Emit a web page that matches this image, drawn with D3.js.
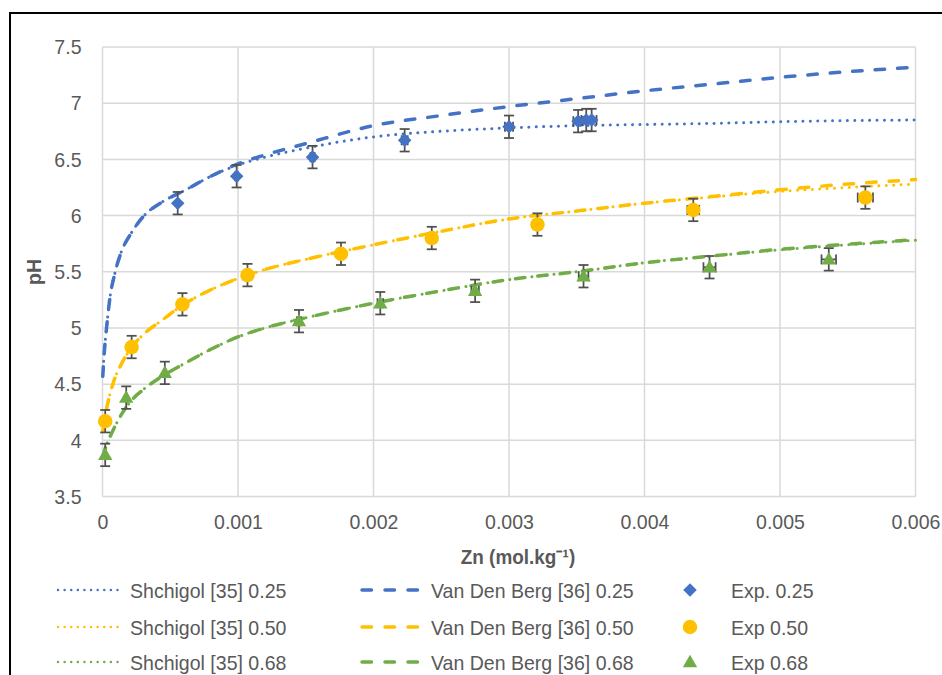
<!DOCTYPE html>
<html>
<head>
<meta charset="utf-8">
<script src="https://cdn.jsdelivr.net/npm/d3@7"></script>
<style>
  html, body { margin: 0; padding: 0; background: #fff; }
  svg { display: block; }
  text { font-family: 'Liberation Sans', Arial, sans-serif; }
</style>
</head>
<body>
<svg id="chart" width="942" height="675"></svg>
<script>
// ---- Data ----
const xTicks = [0, 0.001, 0.002, 0.003, 0.004, 0.005, 0.006];
const xTickLabels = ["0", "0.001", "0.002", "0.003", "0.004", "0.005", "0.006"];
const yTicks = [3.5, 4, 4.5, 5, 5.5, 6, 6.5, 7, 7.5];
const yTickLabels = ["3.5", "4", "4.5", "5", "5.5", "6", "6.5", "7", "7.5"];

const curveX = [0.000002, 0.000013, 0.00003, 0.000055, 0.00009, 0.00014, 0.00021, 0.0003, 0.00044, 0.0006, 0.0008, 0.001, 0.0012, 0.0015, 0.002, 0.0025, 0.003, 0.0035, 0.004, 0.0045, 0.005, 0.0055, 0.006];
const shchigol025 = [4.57, 4.78, 5.00, 5.27, 5.48, 5.68, 5.84, 5.99, 6.12, 6.22, 6.35, 6.45, 6.52, 6.60, 6.70, 6.75, 6.78, 6.80, 6.81, 6.82, 6.835, 6.845, 6.85];
const shchigol050 = [4.08, 4.16, 4.28, 4.41, 4.55, 4.68, 4.82, 4.94, 5.07, 5.21, 5.34, 5.44, 5.52, 5.61, 5.74, 5.86, 5.97, 6.04, 6.11, 6.165, 6.215, 6.25, 6.28];
const shchigol068 = [3.85, 3.90, 3.96, 4.03, 4.12, 4.23, 4.35, 4.45, 4.57, 4.68, 4.81, 4.92, 5.00, 5.09, 5.22, 5.33, 5.43, 5.50, 5.58, 5.64, 5.695, 5.74, 5.78];
const vdb025 = [4.57, 4.78, 5.00, 5.27, 5.48, 5.68, 5.84, 5.99, 6.12, 6.22, 6.35, 6.46, 6.54, 6.64, 6.80, 6.89, 6.97, 7.04, 7.11, 7.17, 7.23, 7.28, 7.32];
const vdb050 = [4.08, 4.16, 4.28, 4.41, 4.55, 4.68, 4.82, 4.94, 5.07, 5.21, 5.34, 5.44, 5.52, 5.61, 5.74, 5.86, 5.97, 6.04, 6.11, 6.17, 6.23, 6.28, 6.32];
const vdb068 = [3.85, 3.90, 3.96, 4.03, 4.12, 4.23, 4.35, 4.45, 4.57, 4.68, 4.81, 4.92, 5.00, 5.09, 5.22, 5.33, 5.43, 5.50, 5.58, 5.64, 5.70, 5.745, 5.785];

const exp025X = [0.000555, 0.00099, 0.00155, 0.00223, 0.0030, 0.00351, 0.00357, 0.00361];
const exp025Y = [6.11, 6.35, 6.52, 6.67, 6.79, 6.84, 6.85, 6.85];
const exp050X = [0.00002, 0.000215, 0.00059, 0.00107, 0.00176, 0.00243, 0.00321, 0.00436, 0.00563];
const exp050Y = [4.17, 4.83, 5.21, 5.47, 5.66, 5.80, 5.92, 6.05, 6.16];
const exp068X = [0.00002, 0.000175, 0.00046, 0.00145, 0.00205, 0.00275, 0.00355, 0.00448, 0.00536];
const exp068Y = [3.87, 4.38, 4.60, 5.06, 5.22, 5.33, 5.46, 5.54, 5.61];
const yErr = 0.1;          // +/- pH
const xErrFrac = 0.01;     // +/- 1 % of Zn

const colors = { b: "#4472C4", y: "#FFC000", g: "#70AD47" };

// ---- Setup ----
const svg = d3.select("#chart");
const x = d3.scaleLinear().domain([0, 0.006]).range([102.5, 915.5]);
const y = d3.scaleLinear().domain([3.5, 7.5]).range([496.5, 47]);
const textColor = "#595959";
const fontSize = "21px";
const squeeze = 0.93;

function condense(sel, f) {
  sel.each(function () {
    const w = this.getComputedTextLength();
    d3.select(this).attr("textLength", w * f).attr("lengthAdjust", "spacingAndGlyphs");
  });
}

// outer border
svg.append("rect").attr("x", 10).attr("y", 13).attr("width", 960).attr("height", 700)
  .attr("fill", "none").attr("stroke", "#000").attr("stroke-width", 2);

// gridlines
const grid = svg.append("g");
grid.selectAll("line.v").data(xTicks).join("line")
  .attr("x1", d => x(d)).attr("x2", d => x(d)).attr("y1", y(3.5)).attr("y2", y(7.5))
  .attr("stroke", "#d9d9d9").attr("stroke-width", 1.5);
grid.selectAll("line.h").data(yTicks).join("line")
  .attr("y1", d => y(d)).attr("y2", d => y(d)).attr("x1", x(0)).attr("x2", x(0.006))
  .attr("stroke", "#d9d9d9").attr("stroke-width", 1.5);

// axes (labels only, Excel style)
const xAxis = d3.axisBottom(x).tickValues(xTicks).tickFormat((d, i) => xTickLabels[i]).tickSize(0).tickPadding(18);
const gx = svg.append("g").attr("transform", `translate(0,${y(3.5)})`).call(xAxis);
gx.select(".domain").remove();
gx.selectAll("text").attr("fill", textColor).style("font-size", fontSize)
  .style("font-family", "'Liberation Sans', Arial, sans-serif");
condense(gx.selectAll("text"), squeeze);

const yAxis = d3.axisLeft(y).tickValues(yTicks).tickFormat((d, i) => yTickLabels[i]).tickSize(0).tickPadding(21);
const gy = svg.append("g").attr("transform", `translate(${x(0)},0)`).call(yAxis);
gy.select(".domain").remove();
gy.selectAll("text").attr("fill", textColor).style("font-size", fontSize)
  .style("font-family", "'Liberation Sans', Arial, sans-serif");
condense(gy.selectAll("text"), squeeze);

// axis titles
const xt = svg.append("text").attr("x", 518).attr("y", 564).attr("text-anchor", "middle")
  .attr("fill", textColor).style("font-size", fontSize).style("font-weight", "bold")
  .text("Zn (mol.kg\u207B\u00B9)");
condense(xt, 0.9);

const ph = svg.append("text").attr("transform", "translate(41,272) rotate(-90)").attr("text-anchor", "middle")
  .attr("fill", textColor).style("font-size", fontSize).style("font-weight", "bold").text("pH");
condense(ph, 0.93);

// ---- Lines ----
const line = d3.line().x(d => x(d[0])).y(d => y(d[1])).curve(d3.curveMonotoneX);
const dotted = { w: 3, dash: "0.01 7.4" };
const dashed = { w: 3.5, dash: "9.5 13" };
const lineSeries = [
  { v: shchigol025, c: colors.b, s: dotted },
  { v: shchigol050, c: colors.y, s: dotted },
  { v: shchigol068, c: colors.g, s: dotted },
  { v: vdb025, c: colors.b, s: dashed },
  { v: vdb050, c: colors.y, s: dashed },
  { v: vdb068, c: colors.g, s: dashed }
];
svg.append("g").selectAll("path").data(lineSeries).join("path")
  .attr("d", d => line(curveX.map((xv, i) => [xv, d.v[i]])))
  .attr("fill", "none").attr("stroke", d => d.c).attr("stroke-width", d => d.s.w)
  .attr("stroke-dasharray", d => d.s.dash).attr("stroke-linecap", "round");

// ---- Experimental points with error bars ----
const diamondPath = d3.symbol().type(d3.symbolSquare).size(92)();
const circlePath = d3.symbol().type(d3.symbolCircle).size(165)();
const trianglePath = d3.symbol().type(d3.symbolTriangle).size(90)();
const expSeries = [
  { xs: exp025X, ys: exp025Y, c: colors.b, p: diamondPath, rot: 45 },
  { xs: exp050X, ys: exp050Y, c: colors.y, p: circlePath, rot: 0 },
  { xs: exp068X, ys: exp068Y, c: colors.g, p: trianglePath, rot: 0 }
];
const eb = svg.append("g").attr("stroke", "#505050").attr("stroke-width", 1.75).attr("fill", "none");
expSeries.forEach(s => {
  s.xs.forEach((xv, i) => {
    const cx = x(xv), cy = y(s.ys[i]);
    const top = y(s.ys[i] + yErr), bot = y(s.ys[i] - yErr);
    eb.append("line").attr("x1", cx).attr("x2", cx).attr("y1", top).attr("y2", bot);
    eb.append("line").attr("x1", cx - 5).attr("x2", cx + 5).attr("y1", top).attr("y2", top);
    eb.append("line").attr("x1", cx - 5).attr("x2", cx + 5).attr("y1", bot).attr("y2", bot);
    const l = x(xv * (1 - xErrFrac)), r = x(xv * (1 + xErrFrac));
    eb.append("line").attr("x1", l).attr("x2", r).attr("y1", cy).attr("y2", cy);
    eb.append("line").attr("x1", l).attr("x2", l).attr("y1", cy - 5).attr("y2", cy + 5);
    eb.append("line").attr("x1", r).attr("x2", r).attr("y1", cy - 5).attr("y2", cy + 5);
  });
});
expSeries.forEach(s => {
  svg.append("g").selectAll("path").data(s.xs.map((xv, i) => [xv, s.ys[i]])).join("path")
    .attr("d", s.p).attr("fill", s.c)
    .attr("transform", d => `translate(${x(d[0])},${y(d[1]) + (s.p === trianglePath ? 1 : 0)}) rotate(${s.rot})`);
});

// ---- Legend ----
const legendRows = [590, 627, 662];
const col1Labels = ["Shchigol [35] 0.25", "Shchigol [35] 0.50", "Shchigol [35] 0.68"];
const col2Labels = ["Van Den Berg [36] 0.25", "Van Den Berg [36] 0.50", "Van Den Berg [36] 0.68"];
const col3Labels = ["Exp. 0.25", "Exp 0.50", "Exp 0.68"];
const rowColors = [colors.b, colors.y, colors.g];
const leg = svg.append("g");
legendRows.forEach((ry, i) => {
  leg.append("line").attr("x1", 58).attr("x2", 120).attr("y1", ry).attr("y2", ry)
    .attr("stroke", rowColors[i]).attr("stroke-width", 2.5).attr("stroke-dasharray", "0.01 6.6").attr("stroke-linecap", "round");
  leg.append("text").attr("x", 130).attr("y", ry + 7.5).attr("fill", textColor).style("font-size", fontSize).text(col1Labels[i]);
  leg.append("line").attr("x1", 362).attr("x2", 420).attr("y1", ry).attr("y2", ry)
    .attr("stroke", rowColors[i]).attr("stroke-width", 3.5).attr("stroke-dasharray", "9.5 13.5").attr("stroke-linecap", "round");
  leg.append("text").attr("x", 431).attr("y", ry + 7.5).attr("fill", textColor).style("font-size", fontSize).text(col2Labels[i]);
  const s = expSeries[i];
  leg.append("path").attr("d", s.p).attr("fill", s.c)
    .attr("transform", `translate(690,${ry + (s.p === trianglePath ? 1 : 0)}) rotate(${s.rot})`);
  leg.append("text").attr("x", 731).attr("y", ry + 7.5).attr("fill", textColor).style("font-size", fontSize).text(col3Labels[i]);
});
condense(leg.selectAll("text"), squeeze);
</script>
</body>
</html>
